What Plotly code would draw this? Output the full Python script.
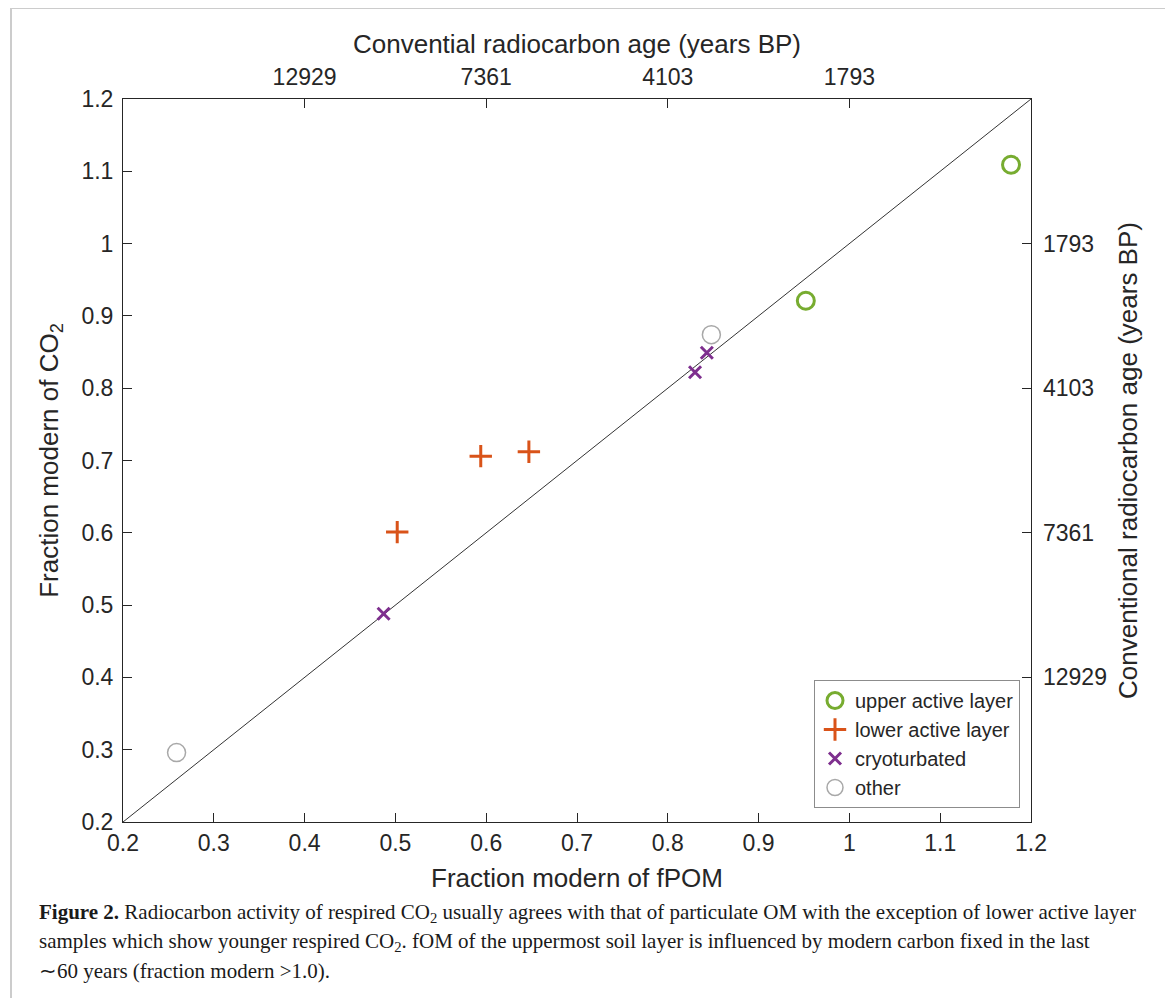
import plotly.graph_objects as go

# ---- data ----
upper_x = [0.952, 1.178]
upper_y = [0.921, 1.109]
lower_x = [0.502, 0.594, 0.647]
lower_y = [0.601, 0.706, 0.712]
cryo_x = [0.487, 0.830, 0.843]
cryo_y = [0.488, 0.822, 0.849]
other_x = [0.259, 0.848]
other_y = [0.296, 0.874]
one_to_one = [0.2, 1.2]

age_tickvals = [0.4, 0.6, 0.8, 1.0]
age_ticktext = ["12929", "7361", "4103", "1793"]
fm_ticks = [0.2, 0.3, 0.4, 0.5, 0.6, 0.7, 0.8, 0.9, 1.0, 1.1, 1.2]
fm_ticktext = ["0.2", "0.3", "0.4", "0.5", "0.6", "0.7", "0.8", "0.9", "1", "1.1", "1.2"]

# page is offset by the 8px body margin of the html page
OFF = 8
W, H = 1173 - OFF, 998 - OFF
L, R, T, B = 123, 1031, 99, 822          # plot area in page pixels
pw, ph = R - L, B - T

def px_x(p):
    return (p - L) / pw

def px_y(p):
    return (B - p) / ph

TXT = "#262626"
SANS = "Liberation Sans, Arial, sans-serif"
SERIF = "Liberation Serif, Times New Roman, serif"

fig = go.Figure()

fig.add_trace(go.Scatter(x=one_to_one, y=one_to_one, mode="lines",
                         line=dict(color="#333333", width=1),
                         showlegend=False, hoverinfo="skip"))

fig.add_trace(go.Scatter(x=upper_x, y=upper_y, mode="markers", name="upper active layer",
                         marker=dict(symbol="circle-open", size=17, color="#77AC30",
                                     line=dict(width=3, color="#77AC30"))))
fig.add_trace(go.Scatter(x=lower_x, y=lower_y, mode="markers", name="lower active layer",
                         marker=dict(symbol="cross-thin-open", size=16, color="#D95319",
                                     line=dict(width=3, color="#D95319"))))
fig.add_trace(go.Scatter(x=cryo_x, y=cryo_y, mode="markers", name="cryoturbated",
                         marker=dict(symbol="x-thin-open", size=12, color="#7E2F8E",
                                     line=dict(width=3, color="#7E2F8E"))))
fig.add_trace(go.Scatter(x=other_x, y=other_y, mode="markers", name="other",
                         marker=dict(symbol="circle-open", size=18, color="#A8A8A8",
                                     line=dict(width=1.5, color="#A8A8A8"))))

# invisible trace to activate the secondary (age) axes
fig.add_trace(go.Scatter(x=one_to_one[:1], y=one_to_one[:1], xaxis="x2", yaxis="y2",
                         mode="markers", marker=dict(opacity=0), showlegend=False,
                         hoverinfo="skip"))

axis_common = dict(showgrid=False, zeroline=False, ticks="inside", ticklen=9,
                   tickwidth=1, tickcolor=TXT, tickfont=dict(family=SANS, size=23, color=TXT),
                   linecolor=TXT, linewidth=1)
TFS = 26

fig.update_layout(
    width=W, height=H,
    margin=dict(l=L - OFF, r=W - (R - OFF), t=T - OFF, b=H - (B - OFF), autoexpand=False),
    paper_bgcolor="white", plot_bgcolor="white",
    font=dict(family=SANS, color=TXT),
    xaxis=dict(range=one_to_one, tickvals=fm_ticks, ticktext=fm_ticktext,
               showline=True, mirror=True, ticklabelstandoff=0,
               title=dict(text="Fraction modern of fPOM", font=dict(size=TFS, color=TXT),
                          standoff=14),
               **axis_common),
    yaxis=dict(range=one_to_one, tickvals=fm_ticks, ticktext=fm_ticktext,
               showline=True, mirror=True, ticklabelstandoff=4,
               title=dict(text="Fraction modern of CO<sub>2</sub>", font=dict(size=TFS, color=TXT),
                          standoff=15),
               **axis_common),
    xaxis2=dict(overlaying="x", side="top", anchor="y", range=one_to_one,
                tickvals=age_tickvals, ticktext=age_ticktext, showline=False,
                ticklabelstandoff=8,
                title=dict(text="Convential radiocarbon age (years BP)",
                           font=dict(size=TFS, color=TXT), standoff=3),
                **axis_common),
    yaxis2=dict(overlaying="y", side="right", anchor="x", range=one_to_one,
                tickvals=age_tickvals, ticktext=age_ticktext, showline=False,
                ticklabelstandoff=11,
                title=dict(text="Conventional radiocarbon age (years BP)",
                           font=dict(size=TFS, color=TXT), standoff=12),
                **axis_common),
    legend=dict(x=px_x(1020), xanchor="right", y=px_y(808), yanchor="bottom",
                bgcolor="white", bordercolor="#8c8c8c", borderwidth=1,
                font=dict(family=SANS, size=20, color=TXT), tracegroupgap=0),
    hovermode=False,
)

# caption
caption_lines = [
    "<b>Figure 2.</b> Radiocarbon activity of respired CO<sub>2</sub> usually agrees with that of particulate OM with the exception of lower active layer",
    "samples which show younger respired CO<sub>2</sub>. fOM of the uppermost soil layer is influenced by modern carbon fixed in the last",
    "\u223c60 years (fraction modern >1.0).",
]
caption_y = [913, 942, 971]
for txt, yy in zip(caption_lines, caption_y):
    fig.add_annotation(text=txt, xref="paper", yref="paper", x=px_x(37), y=px_y(yy),
                       xanchor="left", yanchor="middle", showarrow=False,
                       font=dict(family=SERIF, size=21, color="#1a1a1a"))

# outer page frame
frame_col = "#cccccc"
fig.add_shape(type="line", xref="paper", yref="paper", x0=px_x(11), x1=px_x(11),
              y0=px_y(8), y1=px_y(1010), line=dict(color=frame_col, width=2))
fig.add_shape(type="line", xref="paper", yref="paper", x0=px_x(11), x1=px_x(1166),
              y0=px_y(8), y1=px_y(8), line=dict(color=frame_col, width=2))
fig.add_shape(type="line", xref="paper", yref="paper", x0=px_x(1166), x1=px_x(1166),
              y0=px_y(8), y1=px_y(1010), line=dict(color=frame_col, width=2))

fig.write_html("out.html")
